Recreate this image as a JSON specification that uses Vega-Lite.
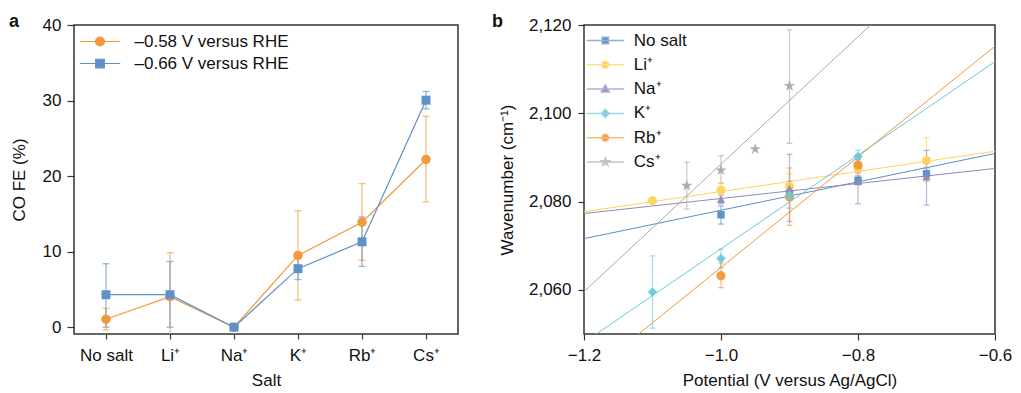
{
  "$schema": "https://vega.github.io/schema/vega-lite/v6.json",
  "background": "white",
  "padding": {"left": 8, "top": 12, "right": 5, "bottom": 0},
  "spacing": 32,
  "datasets": {
    "feA": [
      {"salt": "No salt", "series": "–0.58 V versus RHE", "fe": 1.05, "lo": -0.35, "hi": 2.5},
      {"salt": "Li⁺", "series": "–0.58 V versus RHE", "fe": 4.05, "lo": -1.8, "hi": 9.85},
      {"salt": "Na⁺", "series": "–0.58 V versus RHE", "fe": 0.0, "lo": 0.0, "hi": 0.0},
      {"salt": "K⁺", "series": "–0.58 V versus RHE", "fe": 9.5, "lo": 3.6, "hi": 15.4},
      {"salt": "Rb⁺", "series": "–0.58 V versus RHE", "fe": 13.9, "lo": 8.85, "hi": 19.0},
      {"salt": "Cs⁺", "series": "–0.58 V versus RHE", "fe": 22.2, "lo": 16.6, "hi": 27.9},
      {"salt": "No salt", "series": "–0.66 V versus RHE", "fe": 4.3, "lo": 0.0, "hi": 8.4},
      {"salt": "Li⁺", "series": "–0.66 V versus RHE", "fe": 4.3, "lo": 0.0, "hi": 8.7},
      {"salt": "Na⁺", "series": "–0.66 V versus RHE", "fe": 0.0, "lo": 0.0, "hi": 0.0},
      {"salt": "K⁺", "series": "–0.66 V versus RHE", "fe": 7.75, "lo": 6.3, "hi": 9.4},
      {"salt": "Rb⁺", "series": "–0.66 V versus RHE", "fe": 11.3, "lo": 8.05, "hi": 14.6},
      {"salt": "Cs⁺", "series": "–0.66 V versus RHE", "fe": 30.05, "lo": 28.9, "hi": 31.2}
    ],
    "ptsB": [
      {"series": "No salt", "pot": -1.0, "wn": 2077.0},
      {"series": "No salt", "pot": -0.9, "wn": 2081.8},
      {"series": "No salt", "pot": -0.8, "wn": 2084.8},
      {"series": "No salt", "pot": -0.7, "wn": 2086.3},
      {"series": "Li⁺", "pot": -1.1, "wn": 2080.2},
      {"series": "Li⁺", "pot": -1.0, "wn": 2082.6},
      {"series": "Li⁺", "pot": -0.9, "wn": 2083.4},
      {"series": "Li⁺", "pot": -0.8, "wn": 2087.5},
      {"series": "Li⁺", "pot": -0.7, "wn": 2089.3},
      {"series": "Na⁺", "pot": -1.0, "wn": 2080.5},
      {"series": "Na⁺", "pot": -0.9, "wn": 2083.0},
      {"series": "Na⁺", "pot": -0.8, "wn": 2084.6},
      {"series": "Na⁺", "pot": -0.7, "wn": 2085.6},
      {"series": "K⁺", "pot": -1.1, "wn": 2059.5},
      {"series": "K⁺", "pot": -1.0, "wn": 2067.1},
      {"series": "K⁺", "pot": -0.9, "wn": 2081.4},
      {"series": "K⁺", "pot": -0.8, "wn": 2090.2},
      {"series": "Rb⁺", "pot": -1.0, "wn": 2063.2},
      {"series": "Rb⁺", "pot": -0.9, "wn": 2081.1},
      {"series": "Rb⁺", "pot": -0.8, "wn": 2088.3},
      {"series": "Cs⁺", "pot": -1.05, "wn": 2083.6},
      {"series": "Cs⁺", "pot": -1.0, "wn": 2087.1},
      {"series": "Cs⁺", "pot": -0.95, "wn": 2091.9},
      {"series": "Cs⁺", "pot": -0.9, "wn": 2106.2}
    ],
    "errB": [
      {"series": "No salt", "pot": -1.0, "lo": 2074.9, "hi": 2079.0},
      {"series": "No salt", "pot": -0.9, "lo": 2080.3, "hi": 2083.3},
      {"series": "No salt", "pot": -0.8, "lo": 2083.8, "hi": 2085.8},
      {"series": "No salt", "pot": -0.7, "lo": 2085.0, "hi": 2087.6},
      {"series": "Li⁺", "pot": -1.0, "lo": 2081.0, "hi": 2084.2},
      {"series": "Li⁺", "pot": -0.9, "lo": 2080.5, "hi": 2086.3},
      {"series": "Li⁺", "pot": -0.8, "lo": 2086.5, "hi": 2088.5},
      {"series": "Li⁺", "pot": -0.7, "lo": 2084.5, "hi": 2094.5},
      {"series": "Na⁺", "pot": -1.0, "lo": 2079.5, "hi": 2081.5},
      {"series": "Na⁺", "pot": -0.9, "lo": 2075.5, "hi": 2090.7},
      {"series": "Na⁺", "pot": -0.8, "lo": 2079.5, "hi": 2089.5},
      {"series": "Na⁺", "pot": -0.7, "lo": 2079.2, "hi": 2091.6},
      {"series": "K⁺", "pot": -1.1, "lo": 2051.3, "hi": 2067.7},
      {"series": "K⁺", "pot": -1.0, "lo": 2065.0, "hi": 2069.2},
      {"series": "K⁺", "pot": -0.9, "lo": 2078.5, "hi": 2084.6},
      {"series": "K⁺", "pot": -0.8, "lo": 2088.6, "hi": 2091.6},
      {"series": "Rb⁺", "pot": -1.0, "lo": 2060.5, "hi": 2066.1},
      {"series": "Rb⁺", "pot": -0.9, "lo": 2074.6, "hi": 2087.6},
      {"series": "Rb⁺", "pot": -0.8, "lo": 2086.5, "hi": 2090.0},
      {"series": "Cs⁺", "pot": -1.05, "lo": 2078.3, "hi": 2088.9},
      {"series": "Cs⁺", "pot": -1.0, "lo": 2084.1, "hi": 2090.4},
      {"series": "Cs⁺", "pot": -0.9, "lo": 2093.2, "hi": 2118.9}
    ],
    "fitB": [
      {"series": "No salt", "pot": -1.2, "wn": 2071.6},
      {"series": "No salt", "pot": -0.6, "wn": 2090.9},
      {"series": "Li⁺", "pot": -1.2, "wn": 2077.7},
      {"series": "Li⁺", "pot": -0.6, "wn": 2091.4},
      {"series": "Na⁺", "pot": -1.2, "wn": 2077.3},
      {"series": "Na⁺", "pot": -0.6, "wn": 2087.5},
      {"series": "K⁺", "pot": -1.2, "wn": 2048.1},
      {"series": "K⁺", "pot": -0.6, "wn": 2111.7},
      {"series": "Rb⁺", "pot": -1.2, "wn": 2040.0},
      {"series": "Rb⁺", "pot": -0.6, "wn": 2115.2},
      {"series": "Cs⁺", "pot": -1.2, "wn": 2059.6},
      {"series": "Cs⁺", "pot": -0.6, "wn": 2146.2}
    ]
  },
  "hconcat": [
    {
      "width": 384,
      "height": 309,
      "title": {"text": "a", "anchor": "start", "frame": "group", "dx": -65, "fontSize": 18, "fontWeight": "bold", "offset": -29, "baseline": "alphabetic"},
      "data": {"name": "feA"},
      "encoding": {
        "x": {"field": "salt", "type": "nominal", "sort": ["No salt", "Li⁺", "Na⁺", "K⁺", "Rb⁺", "Cs⁺"],
              "scale": {"type": "point", "padding": 0.5},
              "axis": {"title": "Salt", "labelAngle": 0, "tickSize": 5, "labelPadding": 8, "titlePadding": 9, "domain": false}},
        "y": {"field": "fe", "type": "quantitative", "title": "CO FE (%)",
              "scale": {"domain": [-0.9, 40], "nice": false, "zero": false},
              "axis": {"title": "CO FE (%)", "values": [0, 10, 20, 30, 40], "tickSize": 7, "labelPadding": 6, "titlePadding": 14, "domain": false}}
      },
      "layer": [
        {"mark": {"type": "errorbar", "ticks": {"opacity": 0.65}, "rule": {"opacity": 0.65}, "size": 7, "thickness": 1.3, "clip": true},
         "encoding": {"y": {"field": "lo", "type": "quantitative", "title": "CO FE (%)"}, "y2": {"field": "hi"},
                      "color": {"field": "series", "type": "nominal", "legend": null,
                                "scale": {"domain": ["–0.66 V versus RHE", "–0.58 V versus RHE"], "range": ["#5e91c8", "#f3993b"]}}}},
        {"mark": {"type": "line", "strokeWidth": 1.2},
         "encoding": {"color": {"field": "series", "type": "nominal", "legend": null}}},
        {"transform": [{"filter": "datum.series === '–0.58 V versus RHE'"}],
         "mark": {"type": "point", "filled": true, "opacity": 1, "size": 90, "shape": "circle"},
         "encoding": {"color": {"field": "series", "type": "nominal", "legend": null}}},
        {"transform": [{"filter": "datum.series === '–0.66 V versus RHE'"}],
         "mark": {"type": "point", "filled": true, "opacity": 1, "size": 80, "shape": "square"},
         "encoding": {"color": {"field": "series", "type": "nominal", "legend": null}}},
        {"transform": [{"filter": "datum.fe > 1000"}],
         "mark": {"type": "point", "filled": true, "opacity": 1, "strokeWidth": 1.2},
         "encoding": {
           "fill": {"field": "series", "type": "nominal",
                    "scale": {"domain": ["–0.58 V versus RHE", "–0.66 V versus RHE"], "range": ["#f3993b", "#5e91c8"]},
                    "legend": {"orient": "top-left", "title": null, "offset": 8, "padding": 0, "rowPadding": 4, "symbolSize": 81, "symbolStrokeWidth": 1.2, "symbolOffset": 9.5, "labelOffset": 26, "labelFontSize": 17, "labelColor": "#111"}},
           "stroke": {"field": "series", "type": "nominal",
                      "scale": {"domain": ["–0.58 V versus RHE", "–0.66 V versus RHE"], "range": ["#f3993b", "#5e91c8"]},
                      "legend": {"orient": "top-left", "title": null, "offset": 8, "padding": 0, "rowPadding": 4, "symbolSize": 81, "symbolStrokeWidth": 1.2, "symbolOffset": 9.5, "labelOffset": 26, "labelFontSize": 17, "labelColor": "#111"}},
           "shape": {"field": "series", "type": "nominal",
                     "scale": {"domain": ["–0.58 V versus RHE", "–0.66 V versus RHE"], "range": ["M-4.5,0H4.5M-1,0A1,1,0,1,0,1,0A1,1,0,1,0,-1,0Z", "M-4.5,0H4.5M-0.95,-0.95H0.95V0.95H-0.95Z"]},
                     "legend": {"orient": "top-left", "title": null, "offset": 8, "padding": 0, "rowPadding": 4, "symbolSize": 81, "symbolStrokeWidth": 1.2, "symbolOffset": 9.5, "labelOffset": 26, "labelFontSize": 17, "labelColor": "#111"}}
         }}
      ]
    },
    {
      "width": 411,
      "height": 309,
      "title": {"text": "b", "anchor": "start", "frame": "group", "dx": -92, "fontSize": 18, "fontWeight": "bold", "offset": -29, "baseline": "alphabetic"},
      "encoding": {
        "x": {"field": "pot", "type": "quantitative",
              "scale": {"domain": [-1.2, -0.6], "nice": false, "zero": false},
              "axis": {"title": "Potential (V versus Ag/AgCl)", "values": [-1.2, -1.0, -0.8, -0.6], "labelExpr": "replace(format(datum.value, '.1f'), '-', '–')", "labelFlush": false, "tickSize": 6, "labelPadding": 7, "titlePadding": 9, "domain": false}},
        "y": {"field": "wn", "type": "quantitative", "title": "Wavenumber (cm⁻¹)",
              "scale": {"domain": [2050, 2120], "nice": false, "zero": false},
              "axis": {"title": "Wavenumber (cm⁻¹)", "values": [2060, 2080, 2100, 2120], "format": ",.0f", "tickSize": 6, "labelPadding": 7, "titlePadding": 12, "domain": false}},
        "color": {"field": "series", "type": "nominal", "legend": null,
                  "scale": {"domain": ["Cs⁺", "Rb⁺", "K⁺", "Na⁺", "Li⁺", "No salt"], "range": ["#aaaaaa", "#f2973a", "#6dc8d9", "#8e8bbd", "#fdd35c", "#5b8cc8"]}}
      },
      "layer": [
        {"data": {"name": "fitB"},
         "mark": {"type": "line", "strokeWidth": 1, "clip": true},
         "encoding": {"detail": {"field": "series"}}},
        {"data": {"name": "errB"},
         "mark": {"type": "errorbar", "ticks": {"opacity": 0.6}, "rule": {"opacity": 0.6}, "size": 6, "thickness": 1.3, "clip": true},
         "encoding": {"y": {"field": "lo", "type": "quantitative", "title": "Wavenumber (cm⁻¹)"}, "y2": {"field": "hi"}}},
        {"data": {"name": "ptsB"}, "transform": [{"filter": "datum.series === 'No salt'"}],
         "mark": {"type": "point", "filled": true, "opacity": 0.95, "shape": "square", "size": 55}},
        {"data": {"name": "ptsB"}, "transform": [{"filter": "datum.series === 'Li⁺' || datum.series === 'Rb⁺'"}],
         "mark": {"type": "point", "filled": true, "opacity": 0.95, "shape": "circle", "size": 85}},
        {"data": {"name": "ptsB"}, "transform": [{"filter": "datum.series === 'Na⁺'"}],
         "mark": {"type": "point", "filled": true, "opacity": 0.95, "shape": "triangle-up", "size": 70}},
        {"data": {"name": "ptsB"}, "transform": [{"filter": "datum.series === 'K⁺'"}],
         "mark": {"type": "point", "filled": true, "opacity": 0.95, "shape": "diamond", "size": 90}},
        {"data": {"name": "ptsB"}, "transform": [{"filter": "datum.series === 'Cs⁺'"}],
         "mark": {"type": "point", "filled": true, "opacity": 0.95, "size": 100, "shape": "M0,-1.2L0.27,-0.37L1.14,-0.37L0.43,0.14L0.71,0.97L0,0.46L-0.71,0.97L-0.43,0.14L-1.14,-0.37L-0.27,-0.37Z"}},
        {"data": {"name": "ptsB"}, "transform": [{"filter": "datum.wn > 5000"}],
         "mark": {"type": "point", "filled": true, "opacity": 1, "strokeWidth": 1.5},
         "encoding": {
           "fill": {"field": "series", "type": "nominal",
                    "scale": {"domain": ["No salt", "Li⁺", "Na⁺", "K⁺", "Rb⁺", "Cs⁺"], "range": ["#5b8cc8", "#fdd35c", "#8e8bbd", "#6dc8d9", "#f2973a", "#aaaaaa"]},
                    "legend": {"orient": "top-left", "title": null, "offset": 7, "padding": 0, "rowPadding": 6.3, "symbolSize": 49, "symbolStrokeWidth": 1.5, "symbolOffset": 5.8, "labelOffset": 20, "labelFontSize": 17, "labelColor": "#111"}},
           "stroke": {"field": "series", "type": "nominal",
                      "scale": {"domain": ["No salt", "Li⁺", "Na⁺", "K⁺", "Rb⁺", "Cs⁺"], "range": ["#8fb0da", "#fde08e", "#b0aed2", "#9ad8e4", "#f6bb80", "#c4c4c4"]},
                      "legend": {"orient": "top-left", "title": null, "offset": 7, "padding": 0, "rowPadding": 6.3, "symbolSize": 49, "symbolStrokeWidth": 1.5, "symbolOffset": 5.8, "labelOffset": 20, "labelFontSize": 17, "labelColor": "#111"}},
           "shape": {"field": "series", "type": "nominal",
                     "scale": {"domain": ["No salt", "Li⁺", "Na⁺", "K⁺", "Rb⁺", "Cs⁺"],
                               "range": ["M-5.3,0H5.3M-0.9,-0.9H0.9V0.9H-0.9Z", "M-5.3,0H5.3M-1,0A1,1,0,1,0,1,0A1,1,0,1,0,-1,0Z", "M-5.3,0H5.3M0,-1.15L1.15,0.85H-1.15Z", "M-5.3,0H5.3M0,-1.15L1.15,0L0,1.15L-1.15,0Z", "M-5.3,0H5.3M-1,0A1,1,0,1,0,1,0A1,1,0,1,0,-1,0Z", "M-5.3,0H5.3M0,-1.2L0.27,-0.37L1.14,-0.37L0.43,0.14L0.71,0.97L0,0.46L-0.71,0.97L-0.43,0.14L-1.14,-0.37L-0.27,-0.37Z"]},
                     "legend": {"orient": "top-left", "title": null, "offset": 7, "padding": 0, "rowPadding": 6.3, "symbolSize": 49, "symbolStrokeWidth": 1.5, "symbolOffset": 5.8, "labelOffset": 20, "labelFontSize": 17, "labelColor": "#111"}}
         }}
      ]
    }
  ],
  "resolve": {"scale": {"color": "independent", "fill": "independent", "stroke": "independent", "shape": "independent", "x": "independent", "y": "independent"}, "legend": {"fill": "independent", "stroke": "independent", "shape": "independent"}},
  "config": {
    "font": "Liberation Sans",
    "axis": {"labelFontSize": 17, "titleFontSize": 17, "labelColor": "#111", "titleColor": "#111", "titleFontWeight": "normal", "grid": false, "tickColor": "#333", "tickWidth": 1.2},
    "view": {"stroke": "#333", "strokeWidth": 1.5},
    "title": {"color": "#111"}
  }
}
